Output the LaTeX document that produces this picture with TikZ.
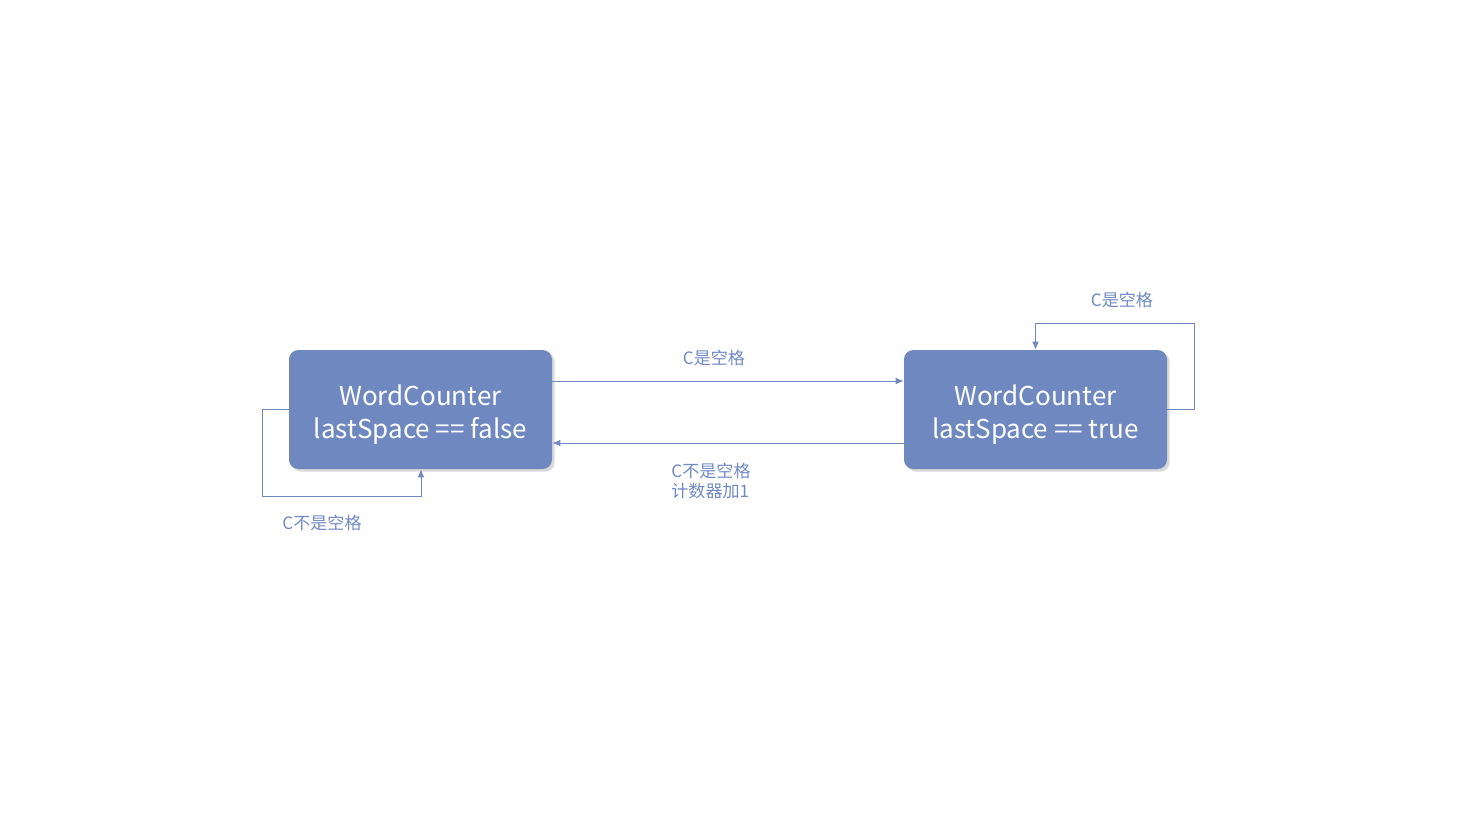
\documentclass[tikz,border=0pt]{standalone}
\usepackage{fontspec}
\setmainfont{Noto Sans CJK SC}
\usetikzlibrary{shadows,arrows.meta}
\definecolor{statefill}{HTML}{6F89C0}
\definecolor{linkcol}{HTML}{7189C3}

\begin{document}
\begin{tikzpicture}[
    x=0.75pt, y=-0.75pt,
    state/.style={rectangle, draw=none, fill=statefill, text=white, align=center, minimum width=263*0.75pt, minimum height=119*0.75pt, rounded corners=7pt, font=\fontsize{19.5}{25}\selectfont, drop shadow={shadow xshift=2pt, shadow yshift=-2pt, opacity=0.25, fill=black!60}},
    arrow/.style={-{Latex[length=6pt,width=5pt]}, draw=linkcol, line width=0.75pt},
    lbl/.style={text=linkcol, font=\fontsize{12.8}{15}\selectfont, inner sep=0pt}
]
\useasboundingbox (0,0) rectangle (1461,818);

% States
\node[state] (falsestate) at (420.5,409.5) {\rule{0pt}{23pt}WordCounter\\lastSpace == false};
\node[state] (truestate) at (1035.5,409.5) {\rule{0pt}{23pt}WordCounter\\lastSpace == true};

% Corner points of the self loops
\coordinate (la) at (262,409.5);
\coordinate (lb) at (262,496);
\coordinate (lc) at (421,496);
\coordinate (ra) at (1194,409.5);
\coordinate (rb) at (1194,323);
\coordinate (rc) at (1035.5,323);

% Transitions
\draw[arrow] (falsestate.east |- 0,381) -- (truestate.west |- 0,381);
\draw[arrow] (truestate.west |- 0,443) -- (falsestate.east |- 0,443);
\draw[arrow] (falsestate.west) -- (la) -- (lb) -- (lc) -- (falsestate.south -| lc);
\draw[arrow] (truestate.east) -- (ra) -- (rb) -- (rc) -- (truestate.north);

% Labels
\node[lbl] (toplbl) at (714,358) {C是空格};
\node[lbl, align=left] (botlbl) at (711,481) {C不是空格\\计数器加1};
\node[lbl] (leftlbl) at (322,523) {C不是空格};
\node[lbl] (rightlbl) at (1122,300) {C是空格};
\end{tikzpicture}
\end{document}
